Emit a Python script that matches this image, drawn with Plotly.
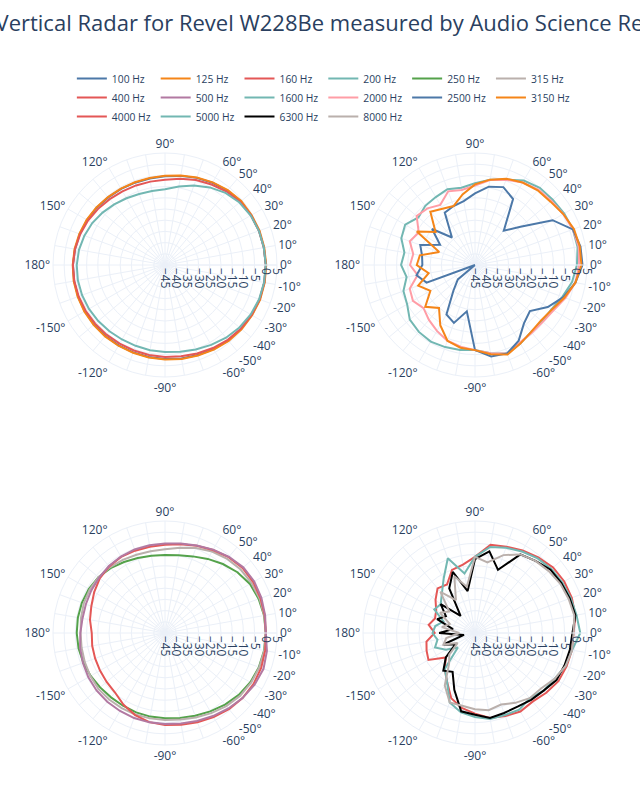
import plotly.graph_objects as go

# angles (degrees) of the measurements
angles = [0, 10, 20, 30, 40, 50, 60, 70, 80, 90, 100, 110, 120, 130, 140, 150, 160, 170, 180,
          -170, -160, -150, -140, -130, -120, -110, -100, -90, -80, -70, -60, -50, -40, -30, -20, -10]

freq_labels = ["100 Hz", "125 Hz", "160 Hz", "200 Hz", "250 Hz", "315 Hz",
               "400 Hz", "500 Hz", "1600 Hz", "2000 Hz", "2500 Hz", "3150 Hz",
               "4000 Hz", "5000 Hz", "6300 Hz", "8000 Hz"]

# dB values (normalised) per frequency, same order as angles
db_100 = [0.0, -0.2, -0.3, -0.6, -0.8, -1.6, -2.6, -3.6, -4.6, -5.4, -5.8, -5.9, -5.8, -5.6, -5.2, -4.8, -4.5, -4.2, -3.9,
          -3.8, -3.7, -3.6, -3.6, -3.6, -3.6, -3.5, -3.3, -3.0, -2.6, -2.2, -1.6, -1.0, -0.6, -0.3, 0.0, 0.0]
db_125 = [0.2, 0.0, -0.1, -0.4, -0.6, -1.4, -2.4, -3.4, -4.4, -5.2, -5.6, -5.7, -5.6, -5.4, -5.0, -4.6, -4.3, -4.0, -3.8,
          -3.6, -3.5, -3.4, -3.4, -3.4, -3.4, -3.3, -3.1, -2.8, -2.4, -2.0, -1.4, -0.8, -0.4, -0.1, 0.2, 0.2]
db_160 = [0.0, -0.2, -0.4, -0.7, -1.2, -2.2, -3.5, -4.6, -5.9, -6.9, -7.2, -7.2, -7.0, -6.6, -6.0, -5.3, -4.7, -4.2, -3.9,
          -3.9, -4.0, -4.1, -4.3, -4.4, -4.5, -4.4, -4.2, -3.9, -3.6, -3.0, -2.2, -1.4, -0.8, -0.4, -0.1, 0.0]
db_200 = [0.0, -0.2, -0.4, -0.8, -1.6, -3.0, -5.0, -7.2, -9.4, -11.2, -11.5, -11.3, -10.6, -9.7, -8.6, -7.5, -6.7, -6.0, -5.6,
          -5.5, -5.6, -5.8, -6.1, -6.4, -6.6, -6.6, -6.4, -6.2, -5.7, -4.9, -3.8, -2.6, -1.6, -0.8, -0.3, -0.1]
db_250 = [0.0, -0.1, -0.5, -1.2, -2.8, -4.8, -6.8, -8.6, -9.8, -10.2, -10.0, -9.4, -8.4, -7.2, -6.2, -5.7, -5.5, -5.5, -5.6,
          -5.8, -6.2, -6.7, -7.2, -7.5, -7.5, -7.3, -7.1, -6.9, -6.5, -5.7, -4.6, -3.3, -2.0, -1.0, -0.4, -0.1]
db_315 = [0.0, 0.0, -0.1, -0.4, -0.9, -1.8, -3.0, -4.6, -6.4, -7.6, -7.9, -7.8, -7.3, -6.7, -6.3, -6.2, -6.4, -6.9, -7.3,
          -7.2, -6.9, -6.5, -6.2, -6.2, -6.3, -6.3, -6.3, -6.2, -5.8, -4.9, -3.7, -2.4, -1.3, -0.6, -0.2, 0.0]
db_400 = [0.0, 0.2, 0.4, 0.5, 0.2, -0.8, -2.2, -3.6, -4.8, -5.6, -5.9, -5.9, -5.8, -6.2, -7.0, -8.5, -10.0, -11.0, -12.3,
          -12.0, -11.8, -11.5, -11.0, -10.3, -8.0, -6.0, -4.6, -3.9, -3.4, -2.6, -1.6, -0.6, 0.2, 0.6, 0.7, 0.4]
db_500 = [0.0, 0.4, 0.8, 1.0, 0.6, -0.6, -2.0, -3.4, -4.4, -5.0, -5.2, -5.3, -5.6, -6.0, -6.6, -7.0, -7.4, -7.6, -7.2,
          -6.5, -6.0, -5.5, -5.1, -4.9, -4.8, -4.6, -4.5, -4.4, -4.0, -3.2, -2.2, -1.0, 0.2, 1.2, 1.8, 1.2]
db_1600 = [0.5, 1.5, 1.5, 1.0, 0.3, 0.0, -1.5, -4.5, -6.3, -8.5, -10.0, -9.0, -10.0, -10.5, -12.0, -9.0, -10.0, -13.0, -12.0,
           -14.0, -11.0, -10.0, -7.0, -6.0, -5.5, -6.0, -6.5, -7.0, -5.0, -3.0, -4.5, -6.0, -6.0, -5.5, -3.5, -1.0]
db_2000 = [1.5, 2.0, 1.5, 0.5, -0.5, -1.0, -2.5, -4.5, -6.5, -9.5, -11.0, -10.0, -14.0, -12.0, -11.0, -16.0, -14.0, -17.0, -16.0,
           -19.0, -14.0, -13.0, -15.0, -13.0, -11.0, -9.0, -8.0, -7.0, -5.0, -3.0, -5.0, -5.5, -5.5, -4.5, -2.0, 0.5]
db_2500 = [3.0, 2.8, 1.5, -5.0, -18.5, -25.0, -11.0, -8.0, -9.5, -13.0, -16.0, -17.0, -18.0, -29.0, -20.0, -27.0, -19.0, -21.0, -21.5,
           -18.5, -22.0, -45.0, -35.0, -30.0, -19.5, -17.5, -24.0, -7.0, -3.5, -3.0, -6.0, -11.0, -13.0, -7.5, -3.0, 0.5]
db_3150 = [2.5, 2.5, 2.0, 0.5, -1.0, -1.5, -2.5, -4.0, -6.3, -9.0, -13.0, -17.0, -16.0, -14.0, -22.0, -15.0, -28.0, -20.0, -19.0,
           -24.0, -18.0, -22.0, -16.0, -20.0, -14.0, -9.0, -7.5, -7.0, -4.5, -2.5, -4.5, -6.0, -6.5, -5.3, -2.5, 0.5]
db_4000 = [-1.0, 0.5, 1.0, 1.0, 0.5, -1.0, -2.5, -4.0, -5.0, -11.0, -14.0, -15.0, -20.0, -19.0, -22.0, -25.0, -26.0, -24.0, -27.0,
           -23.0, -22.0, -21.0, -28.0, -24.0, -20.0, -14.0, -11.0, -9.0, -6.5, -5.5, -4.5, -5.0, -3.5, -2.0, -1.5, -1.0]
db_5000 = [2.0, 1.0, 0.5, 0.0, -0.5, -1.5, -3.0, -4.5, -6.0, -11.0, -18.0, -9.5, -17.0, -22.0, -25.0, -24.0, -30.0, -27.0, -26.0,
           -28.0, -26.0, -30.0, -35.0, -24.0, -20.0, -12.0, -9.0, -7.5, -6.0, -6.0, -5.5, -7.0, -5.0, -4.0, -2.0, -1.0]
db_6300 = [-1.5, 0.5, 0.0, -0.5, -1.0, -3.0, -4.5, -15.0, -8.0, -12.0, -26.0, -16.0, -22.0, -35.0, -25.0, -30.0, -27.0, -35.0, -29.0,
           -40.0, -30.0, -35.0, -28.0, -23.0, -25.0, -18.0, -9.5, -8.5, -6.5, -7.0, -7.0, -6.0, -5.0, -3.0, -2.5, -2.0]
db_8000 = [-1.0, 0.0, -0.5, -1.0, -2.0, -3.0, -4.5, -8.0, -13.0, -11.0, -24.0, -18.0, -28.0, -21.0, -30.0, -27.0, -33.0, -30.0, -38.0,
           -32.0, -30.0, -36.0, -30.0, -27.0, -18.0, -12.0, -12.0, -11.0, -10.0, -11.0, -9.0, -7.0, -6.5, -4.0, -2.0, -1.0]

series_values = [db_100, db_125, db_160, db_200, db_250, db_315, db_400, db_500,
                 db_1600, db_2000, db_2500, db_3150, db_4000, db_5000, db_6300, db_8000]
series_colors = ["#4C78A8", "#F58518", "#E45756", "#72B7B2", "#54A24B", "#BAB0AC", "#E45756", "#B279A2",
                 "#72B7B2", "#FF9DA6", "#4C78A8", "#F58518", "#E45756", "#72B7B2", "#000000", "#BAB0AC"]
series_subplot = ["polar", "polar", "polar", "polar", "polar3", "polar3", "polar3", "polar3",
                  "polar2", "polar2", "polar2", "polar2", "polar4", "polar4", "polar4", "polar4"]

fig = go.Figure()
for name, vals, col, sp in zip(freq_labels, series_values, series_colors, series_subplot):
    fig.add_trace(go.Scatterpolar(
        r=vals + vals[:1],
        theta=angles + angles[:1],
        mode="lines",
        name=name,
        line=dict(color=col, width=2),
        subplot=sp,
    ))

tick_angles = list(range(0, 360, 10))
tick_text = []
for a in tick_angles:
    v = a if a <= 180 else a - 360
    tick_text.append(f"{v}°" if (abs(v) < 60 or v % 30 == 0) else "")

L, R, T, B = 40, 40, 100, 40
W, H = 640, 800
pw, ph = W - L - R, H - T - B

def xdom(cx, rad=112):
    return [(cx - rad - L) / pw, (cx + rad - L) / pw]

def ydom(cy, rad=112):
    return [(H - B - (cy + rad)) / ph, (H - B - (cy - rad)) / ph]

polar_common = dict(
    bgcolor="white",
    radialaxis=dict(range=[-45, 5], dtick=5, tickangle=90, gridcolor="#EBF0F8",
                    linecolor="#EBF0F8", tickfont=dict(size=12)),
    angularaxis=dict(tickmode="array", tickvals=tick_angles, ticktext=tick_text,
                     gridcolor="#EBF0F8", linecolor="#EBF0F8", tickfont=dict(size=12)),
)

fig.update_layout(
    template="plotly_white",
    width=W, height=H,
    margin=dict(l=L, r=R, t=T, b=B, autoexpand=False),
    title=dict(text="Vertical Radar for Revel W228Be measured by Audio Science Review",
               x=0.535, xanchor="center", y=0.971, yanchor="middle",
               font=dict(size=22, color="#2a3f5f")),
    legend=dict(orientation="h", x=0.506, xanchor="center", y=(H - B - 64) / ph, yanchor="top",
                font=dict(size=10.3)),
    polar=dict(domain=dict(x=xdom(165), y=ydom(265)), **polar_common),
    polar2=dict(domain=dict(x=xdom(475), y=ydom(265)), **polar_common),
    polar3=dict(domain=dict(x=xdom(165), y=ydom(633)), **polar_common),
    polar4=dict(domain=dict(x=xdom(475), y=ydom(633)), **polar_common),
)

fig.write_html("out.html", config={"displayModeBar": False},
               post_script="document.body.style.margin='0px';")
